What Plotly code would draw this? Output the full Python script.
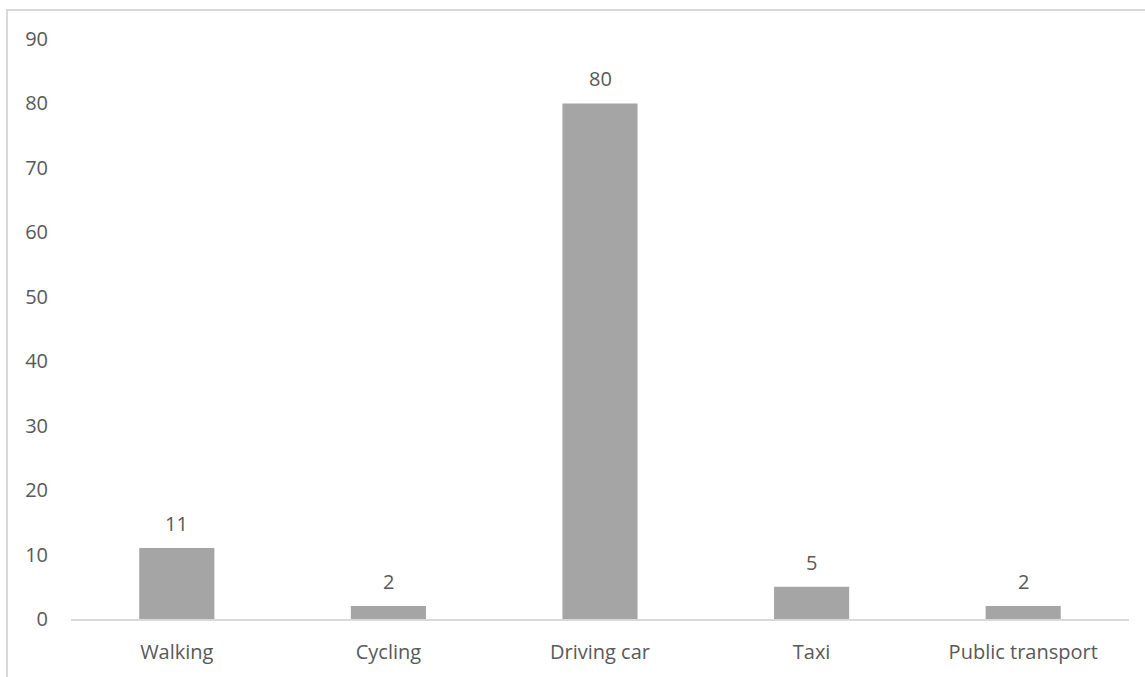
import plotly.graph_objects as go

categories = ["Walking", "Cycling", "Driving car", "Taxi", "Public transport"]
values = [11, 2, 80, 5, 2]
y_ticks = [0, 10, 20, 30, 40, 50, 60, 70, 80, 90]

FONT = "Open Sans"
TXT = "#595959"
FS = 20

fig = go.Figure()
fig.add_trace(go.Bar(
    x=categories, y=values,
    marker=dict(color="#A5A5A5", line=dict(width=0)),
    hoverinfo="skip",
))

for c, v in zip(categories, values):
    fig.add_annotation(x=c, y=v, text=str(v), showarrow=False,
                       yanchor="bottom", yshift=9,
                       font=dict(family=FONT, size=FS, color=TXT))

fig.add_shape(type="rect", xref="paper", yref="paper",
              x0=(7 - 71) / 1058, x1=1.2, y0=-0.3, y1=(621 - 10.5) / 581.5,
              line=dict(color="#D9D9D9", width=2), fillcolor="rgba(0,0,0,0)",
              layer="below")

fig.update_layout(
    width=1145, height=677,
    margin=dict(l=71, r=16, t=39, b=56),
    paper_bgcolor="white", plot_bgcolor="white",
    showlegend=False,
    bargap=0.645,
    font=dict(family=FONT, size=FS, color=TXT),
    xaxis=dict(showline=True, linecolor="#D9D9D9", linewidth=2,
               showgrid=False, ticks="", ticklabelstandoff=14,
               tickfont=dict(family=FONT, size=FS, color=TXT), zeroline=False),
    yaxis=dict(range=[0, 90], tickvals=y_ticks, showgrid=False, zeroline=False,
               showline=False, ticks="", ticklabelstandoff=22,
               tickfont=dict(family=FONT, size=FS, color=TXT)),
)

fig.write_html("out.html")
